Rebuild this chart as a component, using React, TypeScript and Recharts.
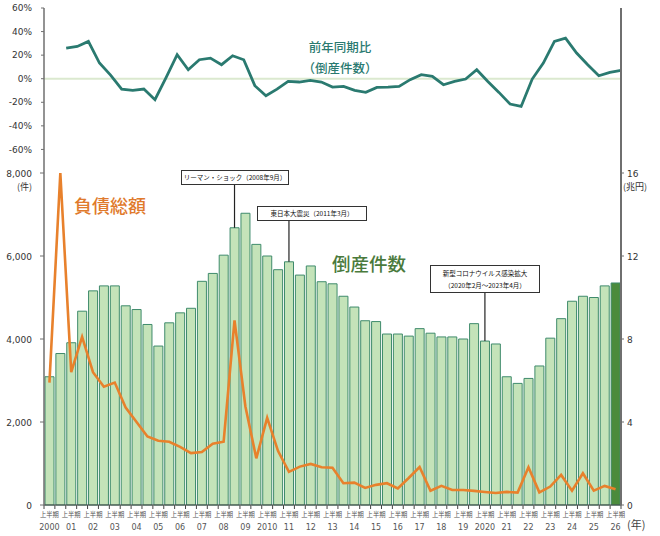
import {
  ComposedChart,
  LineChart,
  Bar,
  Line,
  XAxis,
  YAxis,
  ReferenceLine,
  Cell,
} from "recharts";

// half-year periods, 2000 H1 .. 2026 H1
const years = [
  "2000", "01", "02", "03", "04", "05", "06", "07", "08", "09",
  "2010", "11", "12", "13", "14", "15", "16", "17", "18", "19",
  "2020", "21", "22", "23", "24", "25", "26",
];
const halves = ["上半期", "下半期"];

// 倒産件数 (件)
const bankruptcies = [
  3090, 3650, 3910, 4670, 5160, 5280, 5280, 4800, 4710, 4350,
  3830, 4390, 4630, 4740, 5390, 5580, 6020, 6680, 7030, 6280,
  6000, 5670, 5860, 5540, 5760, 5380, 5330, 5030, 4770, 4440,
  4420, 4120, 4120, 4070, 4250, 4140, 4050, 4050, 4000, 4370,
  3950, 3880, 3090, 2930, 3050, 3350, 4020, 4490, 4910, 5030,
  5000, 5280, 5350,
];

// 負債総額 (兆円)
const debtTotal = [
  5.9, 16.0, 6.4, 8.1, 6.4, 5.7, 5.9, 4.7, 4.0, 3.3,
  3.1, 3.05, 2.8, 2.5, 2.55, 2.95, 3.05, 8.9, 4.75, 2.25,
  4.2, 2.6, 1.6, 1.85, 1.98, 1.82, 1.8, 1.05, 1.08, 0.82,
  0.97, 1.05, 0.8, 1.3, 1.83, 0.69, 0.92, 0.72, 0.72, 0.68,
  0.63, 0.58, 0.63, 0.6, 1.82, 0.61, 0.89, 1.45, 0.69, 1.53,
  0.69, 0.92, 0.76,
];

// 前年同期比 (%)
const yoyChange = [
  null, null, 26.0, 27.4, 31.7, 13.3, 3.0, -8.8, -9.9, -8.8,
  -17.8, 1.0, 20.4, 7.6, 16.1, 17.5, 11.9, 19.5, 16.1, -5.9,
  -14.4, -8.8, -2.3, -2.8, -1.4, -2.8, -7.1, -6.5, -9.9, -11.6,
  -7.4, -7.1, -6.5, -0.8, 3.4, 2.0, -5.1, -2.3, -0.3, 7.6,
  -2.3, -11.6, -21.5, -23.5, -0.3, 13.3, 31.7, 34.5, 21.8, 11.9,
  2.5, 5.4, 7.1,
];

const leftTicks = [0, 2000, 4000, 6000, 8000];
const rightTicks = [0, 4, 8, 12, 16];
const yoyTicks = [-60, -40, -20, 0, 20, 40, 60];

const data = bankruptcies.map((count, i) => ({
  period: years[Math.floor(i / 2)] + halves[i % 2],
  year: years[Math.floor(i / 2)],
  half: i % 2,
  count,
  debt: debtTotal[i],
  yoy: yoyChange[i],
}));

const LATEST = data.length - 1;
const NUM_FONT = "'DejaVu Sans', Verdana, sans-serif";
const JP_FONT = "'Noto Sans CJK JP', sans-serif";
const TEAL = "#2a7a70";
const ORANGE = "#e8812c";
const AXIS = "#6f6f6f";

const XTick = (props: any) => {
  const { x, y, payload, index } = props;
  const half = (payload?.offset as number) || 5.44;
  const d = data[index];
  return (
    <g>
      <line x1={x - half} x2={x - half} y1={y} y2={y + 4} stroke="#444" />
      {index === LATEST && (
        <line x1={x + half} x2={x + half} y1={y} y2={y + 4} stroke="#444" />
      )}
      {d && d.half === 0 && (
        <>
          <text x={x} y={y + 12} textAnchor="middle" fontSize={6.3} fill="#555" fontFamily={JP_FONT}>
            上半期
          </text>
          <text x={x} y={y + 25} textAnchor="middle" fontSize={8} fill="#555" fontFamily={NUM_FONT}>
            {d.year}
          </text>
        </>
      )}
    </g>
  );
};

const LeftTick = (props: any) => {
  const { x, y, payload } = props;
  const v = payload.value as number;
  return (
    <g>
      <text x={x} y={y + 3.5} textAnchor="end" fontSize={9} fill="#333" fontFamily={NUM_FONT}>
        {v.toLocaleString("en-US")}
      </text>
      {v === 8000 && (
        <text x={x} y={y + 17} textAnchor="end" fontSize={9} fill="#333" fontFamily={JP_FONT}>
          (件)
        </text>
      )}
    </g>
  );
};

const RightTick = (props: any) => {
  const { x, y, payload } = props;
  const v = payload.value as number;
  return (
    <g>
      <text x={x} y={y + 3.5} textAnchor="start" fontSize={9} fill="#333" fontFamily={NUM_FONT}>
        {v}
      </text>
      {v === 16 && (
        <text x={x - 4} y={y + 17} textAnchor="start" fontSize={9} fill="#333" fontFamily={JP_FONT}>
          (兆円)
        </text>
      )}
    </g>
  );
};

const boxStyle: React.CSSProperties = {
  position: "absolute",
  border: "1px solid #333",
  background: "#fff",
  fontFamily: JP_FONT,
  fontSize: 6.5,
  color: "#111",
  textAlign: "center",
  boxSizing: "border-box",
  whiteSpace: "nowrap",
};

export default function App() {
  return (
    <div
      style={{
        position: "absolute",
        left: 0,
        top: 0,
        width: 660,
        height: 536,
        background: "#fff",
        overflow: "hidden",
      }}
    >
      {/* bottom panel: counts + debt */}
      <div style={{ position: "absolute", left: 0, top: 0 }}>
        <ComposedChart
          width={660}
          height={536}
          data={data}
          margin={{ top: 173, right: 0, bottom: 0, left: 0 }}
          barCategoryGap={1}
        >
          <XAxis
            dataKey="period"
            interval={0}
            height={31}
            tickLine={false}
            tickSize={0}
            tickMargin={0}
            axisLine={{ stroke: "#444", strokeWidth: 1.2 }}
            tick={<XTick />}
          />
          <YAxis
            yAxisId="left"
            width={44}
            domain={[0, 8000]}
            ticks={leftTicks}
            tickSize={4}
            tickMargin={8}
            tickLine={{ stroke: AXIS }}
            axisLine={{ stroke: AXIS, strokeWidth: 1.5 }}
            tick={<LeftTick />}
          />
          <YAxis
            yAxisId="right"
            orientation="right"
            width={39}
            domain={[0, 16]}
            ticks={rightTicks}
            tickSize={3}
            tickMargin={3}
            tickLine={{ stroke: AXIS }}
            axisLine={{ stroke: AXIS, strokeWidth: 2 }}
            tick={<RightTick />}
          />
          <Bar
            yAxisId="left"
            dataKey="count"
            fill="#c4e3b9"
            stroke="#3f8b6c"
            strokeWidth={1}
            isAnimationActive={false}
          >
            {data.map((d, i) => (
              <Cell key={d.period} fill={i === LATEST ? "#4b8b3c" : "#c4e3b9"} />
            ))}
          </Bar>
          <Line
            yAxisId="right"
            dataKey="debt"
            stroke={ORANGE}
            strokeWidth={2.6}
            dot={false}
            type="linear"
            isAnimationActive={false}
          />
          <ReferenceLine
            yAxisId="left"
            segment={[
              { x: data[17].period, y: 7758 },
              { x: data[17].period, y: bankruptcies[17] },
            ]}
            stroke="#222"
            strokeWidth={1.2}
          />
          <ReferenceLine
            yAxisId="left"
            segment={[
              { x: data[22].period, y: 6888 },
              { x: data[22].period, y: bankruptcies[22] },
            ]}
            stroke="#222"
            strokeWidth={1.2}
          />
          <ReferenceLine
            yAxisId="left"
            segment={[
              { x: data[40].period, y: 5148 },
              { x: data[40].period, y: bankruptcies[40] },
            ]}
            stroke="#222"
            strokeWidth={1.2}
          />
        </ComposedChart>
      </div>

      {/* top panel: year-on-year change */}
      <div style={{ position: "absolute", left: 0, top: 0 }}>
        <LineChart
          width={660}
          height={174}
          data={data}
          margin={{ top: 8, right: 0, bottom: 1, left: 0 }}
        >
          <XAxis dataKey="period" hide />
          <YAxis
            width={44}
            domain={[-80, 60]}
            ticks={yoyTicks}
            tickFormatter={(v: number) => `${v}%`}
            tickSize={3}
            tickMargin={9}
            tickLine={{ stroke: AXIS }}
            axisLine={{ stroke: AXIS, strokeWidth: 1.5 }}
            tick={{ fontSize: 9, fill: "#333", fontFamily: NUM_FONT }}
          />
          <YAxis
            yAxisId="r"
            orientation="right"
            width={39}
            domain={[-80, 60]}
            tick={false}
            tickLine={false}
            axisLine={{ stroke: AXIS, strokeWidth: 2 }}
          />
          <ReferenceLine y={0} stroke="#dbe9cf" strokeWidth={2} />
          <Line
            dataKey="yoy"
            stroke={TEAL}
            strokeWidth={2.8}
            dot={false}
            type="linear"
            connectNulls={false}
            isAnimationActive={false}
          />
        </LineChart>
      </div>

      {/* labels */}
      <div
        style={{
          position: "absolute",
          left: 300,
          top: 36,
          fontFamily: JP_FONT,
          fontSize: 12.5,
          fontWeight: 500,
          color: TEAL,
          lineHeight: "21px",
          textAlign: "center",
          width: 80,
        }}
      >
        前年同期比
        <br />
        （倒産件数）
      </div>
      <div
        style={{
          position: "absolute",
          left: 74,
          top: 196,
          fontFamily: JP_FONT,
          fontSize: 18,
          fontWeight: 500,
          color: "#e07a2c",
          lineHeight: 1,
        }}
      >
        負債総額
      </div>
      <div
        style={{
          position: "absolute",
          left: 332,
          top: 254,
          fontFamily: JP_FONT,
          fontSize: 18.5,
          fontWeight: 500,
          color: "#4a7a3c",
          lineHeight: 1,
        }}
      >
        倒産件数
      </div>

      <div style={{ ...boxStyle, left: 181, top: 170, width: 108, height: 15, lineHeight: "13px" }}>
        リーマン・ショック（2008年9月）
      </div>
      <div style={{ ...boxStyle, left: 257, top: 206, width: 110, height: 15, lineHeight: "13px" }}>
        東日本大震災（2011年3月）
      </div>
      <div
        style={{
          ...boxStyle,
          left: 430,
          top: 265,
          width: 110,
          height: 28,
          lineHeight: "12px",
          paddingTop: 1,
        }}
      >
        新型コロナウイルス感染拡大
        <br />
        （2020年2月～2023年4月）
      </div>

      <div
        style={{
          position: "absolute",
          left: 627,
          top: 519,
          fontFamily: JP_FONT,
          fontSize: 11,
          color: "#444",
          lineHeight: 1,
        }}
      >
        (年)
      </div>
    </div>
  );
}
